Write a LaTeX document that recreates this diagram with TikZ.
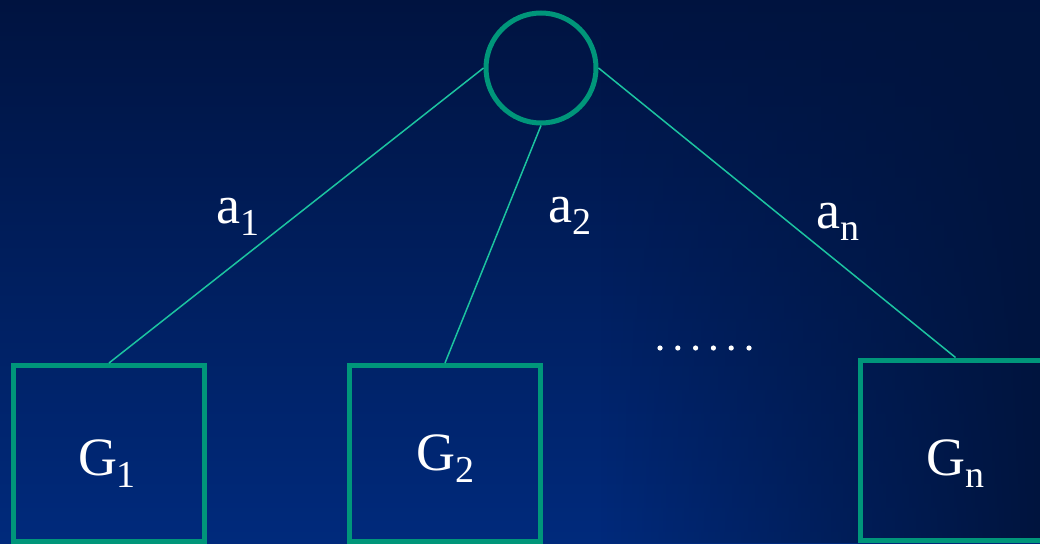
\documentclass[tikz,border=0pt]{standalone}
\usepackage{fontspec}
\setmainfont{Liberation Serif}
\newfontfamily\labelfont{Liberation Serif}
\usetikzlibrary{positioning}
\usetikzlibrary{fadings}

\definecolor{bgtop}{HTML}{001340}
\definecolor{bgbottom}{HTML}{002A7C}
\definecolor{bgright}{HTML}{00143E}
\definecolor{frame}{HTML}{00967A}
\definecolor{wire}{HTML}{1CC4A0}

\tikzfading[name=fade in right, left color=transparent!100, right color=transparent!0]

\newcommand{\lowsub}[1]{\raisebox{-12pt}{\fontsize{38}{40}\selectfont #1}}

\tikzset{
  gbox/.style={draw=frame, line width=5pt, rectangle, minimum width=191pt, minimum height=176pt, inner sep=0pt},
  knot/.style={draw=frame, line width=5pt, circle, minimum size=110pt, inner sep=0pt},
  wirestyle/.style={draw=wire, line width=1.5pt},
  lbl/.style={text=white, font=\labelfont\fontsize{54}{60}\selectfont, anchor=base, inner sep=0pt}
}

\begin{document}
\begin{tikzpicture}[x=1pt, y=-1pt]
            % Background
            \useasboundingbox (0,0) rectangle (1040,543);
            \shade[top color=bgtop, bottom color=bgbottom] (0,0) rectangle (1040,543);
            \fill[bgright, path fading=fade in right] (600,0) rectangle (1040,543);
            
            % Root and subsystems
            \node[knot] (root) at (541,68) {};
            \node[gbox] (g1) at (109,453.5) {};
            \node[gbox] (g2) at (445,453.5) {};
            \node[gbox, minimum height=180pt] (gn) at (955.5,450) {};
            
            % Connectors
            \draw[wirestyle] (root.west) -- (g1.north);
            \draw[wirestyle] (root.south) -- (g2.north);
            \draw[wirestyle] (root.east) -- (gn.north);
            
            % Weights
            \node[lbl] (a1) at (238,223) {a\lowsub{1}};
            \node[lbl] (a2) at (570,222) {a\lowsub{2}};
            \node[lbl] (an) at (838,228) {a\lowsub{n}};
            
            % Box labels
            \node[lbl] (t1) at (107,475) {G\lowsub{1}};
            \node[lbl] (t2) at (445,470) {G\lowsub{2}};
            \node[lbl] (tn) at (955,475) {G\lowsub{n}};
            
            % Dots
            \foreach \k in {0,...,5}
                \fill[white] (660+17.8*\k,348) circle (2.6pt);
        \end{tikzpicture}
\end{document}
